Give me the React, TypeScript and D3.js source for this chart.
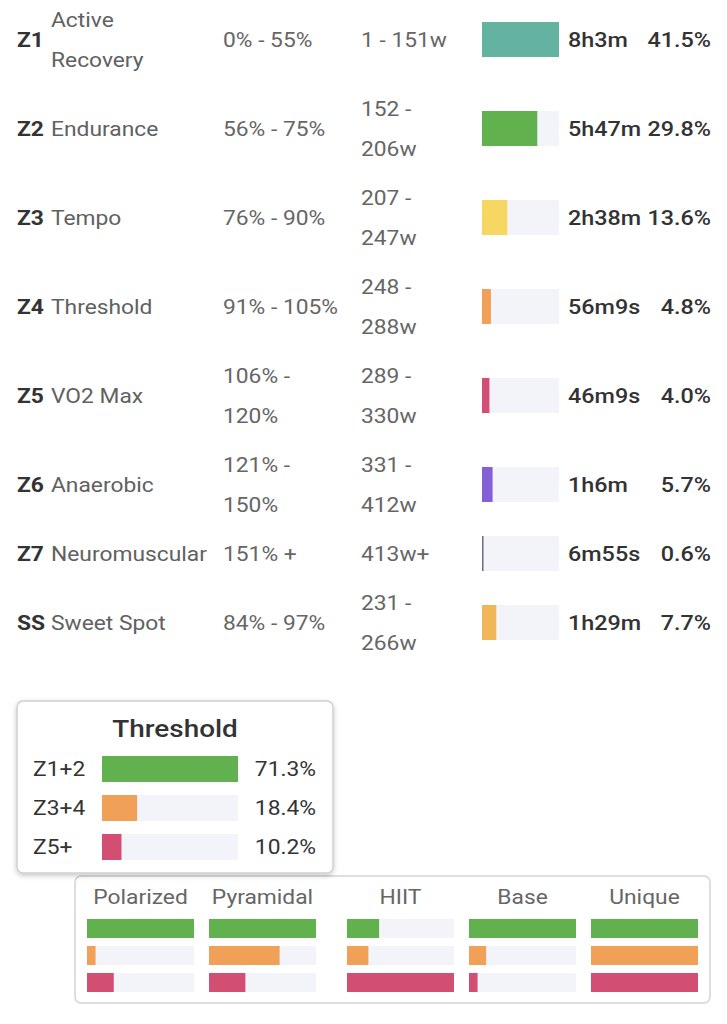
import React from "react";
import * as d3 from "d3";

// ---- Zone table data ----
const zoneIds = ["Z1", "Z2", "Z3", "Z4", "Z5", "Z6", "Z7", "SS"];
const zoneNames = ["Active\nRecovery", "Endurance", "Tempo", "Threshold", "VO2 Max", "Anaerobic", "Neuromuscular", "Sweet Spot"];
const zonePctRanges = ["0% - 55%", "56% - 75%", "76% - 90%", "91% - 105%", "106% -\n120%", "121% -\n150%", "151% +", "84% - 97%"];
const zoneWatts = ["1 - 151w", "152 -\n206w", "207 -\n247w", "248 -\n288w", "289 -\n330w", "331 -\n412w", "413w+", "231 -\n266w"];
const zoneTimes = ["8h3m", "5h47m", "2h38m", "56m9s", "46m9s", "1h6m", "6m55s", "1h29m"];
const zonePercents = [41.5, 29.8, 13.6, 4.8, 4.0, 5.7, 0.6, 7.7];
const zoneColors = ["#63b3a0", "#62b14f", "#f5d762", "#f0a057", "#d24f73", "#8460d6", "#6e6a8a", "#f0b65a"];

// ---- Threshold box data ----
const thresholdTitle = "Threshold";
const thresholdLabels = ["Z1+2", "Z3+4", "Z5+"];
const thresholdValues = [71.3, 18.4, 10.2];
const groupColors = ["#62b14f", "#f0a057", "#d24f73"];

// ---- Model comparison data (fraction of full bar) ----
const modelNames = ["Polarized", "Pyramidal", "HIIT", "Base", "Unique"];
const modelLow = [1.0, 1.0, 0.3, 1.0, 1.0];
const modelMid = [0.08, 0.66, 0.2, 0.16, 1.0];
const modelHigh = [0.25, 0.34, 1.0, 0.08, 1.0];
const modelCenters = [140.5, 262.5, 400.5, 522.5, 644.5];

const TRACK = "#f3f3fa";
const FONT = "Roboto, 'Noto Sans', sans-serif";
const SX = 1.14;

function T(props: any) {
  const { x, y, children, ...rest } = props;
  return (
    <text transform={`translate(${x},${y}) scale(${SX},1)`} x={0} y={0} dy="0.35em" {...rest}>
      {children}
    </text>
  );
}

export default function App() {
  const rowHeights = zoneIds.map((_, i) => {
    const lines = Math.max(
      zoneNames[i].split("\n").length,
      zonePctRanges[i].split("\n").length,
      zoneWatts[i].split("\n").length
    );
    return lines > 1 ? 89 : 49;
  });
  const centers: number[] = [];
  let acc = -5;
  rowHeights.forEach((h) => {
    centers.push(acc + h / 2);
    acc += h;
  });

  const barX = 482;
  const barW = 77;
  const barH = 35;
  const xZone = d3.scaleLinear().domain([0, d3.max(zonePercents) as number]).range([0, barW]);

  const multiline = (text: string, x: number, cy: number, props: any) => {
    const lines = text.split("\n");
    const lh = 40;
    const start = cy - ((lines.length - 1) * lh) / 2;
    return lines.map((l, k) => (
      <T key={k} x={x} y={start + k * lh} {...props}>
        {l}
      </T>
    ));
  };

  const tX = 102;
  const tW = 136;
  const xThr = d3.scaleLinear().domain([0, d3.max(thresholdValues) as number]).range([0, tW]);
  const thrRows = [769, 808, 847];

  const mW = 107;
  const xMod = d3.scaleLinear().domain([0, 1]).range([0, mW]);
  const mRowsY = [919, 946, 973];
  const mH = 19;
  const modelSeries = [modelLow, modelMid, modelHigh];

  return (
    <svg
      width={727}
      height={1024}
      style={{ position: "absolute", left: 0, top: 0, background: "#fff" }}
      fontFamily={FONT}
    >
      <defs>
        <filter id="shadow" x="-10%" y="-10%" width="120%" height="130%">
          <feDropShadow dx="0" dy="2" stdDeviation="2.5" floodColor="#000" floodOpacity="0.22" />
        </filter>
      </defs>
      <rect x={0} y={0} width={727} height={1024} fill="#fff" />

      {zoneIds.map((id, i) => {
        const cy = centers[i];
        return (
          <g key={id}>
            <T x={17} y={cy} fontSize={20} fontWeight={700} fill="#333">
              {id}
            </T>
            {multiline(zoneNames[i], 51, cy, { fontSize: 20, fill: "#616161" })}
            {multiline(zonePctRanges[i], 223, cy, { fontSize: 20, fill: "#666" })}
            {multiline(zoneWatts[i], 361, cy, { fontSize: 20, fill: "#666" })}
            <rect x={barX} y={cy - barH / 2} width={barW} height={barH} fill={TRACK} />
            <rect x={barX} y={cy - barH / 2} width={Math.max(1.5, xZone(zonePercents[i]))} height={barH} fill={zoneColors[i]} />
            <T x={568} y={cy} fontSize={20.5} fontWeight={500} fill="#333">
              {zoneTimes[i]}
            </T>
            <T x={711} y={cy} fontSize={20.5} fontWeight={500} fill="#333" textAnchor="end">
              {zonePercents[i].toFixed(1)}%
            </T>
          </g>
        );
      })}

      {/* model comparison box */}
      <rect x={75} y={876} width={635} height={127} rx={6} fill="#fff" stroke="#d4d4d4" strokeWidth={1.5} />
      {modelNames.map((name, j) => {
        const cx = modelCenters[j];
        const x0 = cx - mW / 2;
        return (
          <g key={name}>
            <T x={cx} y={897} fontSize={20} fill="#666" textAnchor="middle">
              {name}
            </T>
            {modelSeries.map((series, r) => (
              <g key={r}>
                <rect x={x0} y={mRowsY[r]} width={mW} height={mH} fill={TRACK} />
                <rect x={x0} y={mRowsY[r]} width={xMod(series[j])} height={mH} fill={groupColors[r]} />
              </g>
            ))}
          </g>
        );
      })}

      {/* threshold box */}
      <rect x={17} y={701} width={316} height={172} rx={6} fill="#fff" stroke="#d0d0d0" strokeWidth={1.5} filter="url(#shadow)" />
      <T x={175} y={728} fontSize={24.5} fontWeight={500} fill="#333" textAnchor="middle">
        {thresholdTitle}
      </T>
      {thresholdLabels.map((lab, k) => (
        <g key={lab}>
          <T x={33} y={thrRows[k]} fontSize={20} fill="#333">
            {lab}
          </T>
          <rect x={tX} y={thrRows[k] - 13} width={tW} height={26} fill={TRACK} />
          <rect x={tX} y={thrRows[k] - 13} width={xThr(thresholdValues[k])} height={26} fill={groupColors[k]} />
          <T x={316} y={thrRows[k]} fontSize={20} fill="#333" textAnchor="end">
            {thresholdValues[k].toFixed(1)}%
          </T>
        </g>
      ))}
    </svg>
  );
}
